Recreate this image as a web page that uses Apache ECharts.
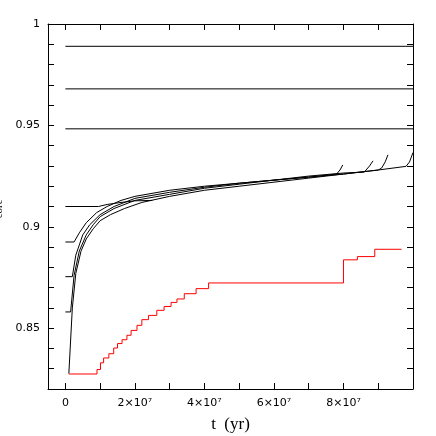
<!DOCTYPE html>
<html><head><meta charset="utf-8">
<script src="https://cdn.jsdelivr.net/npm/echarts@6/dist/echarts.min.js"></script>
<style>html,body{margin:0;padding:0;background:#fff}#c{width:436px;height:436px}</style>
</head><body><div id="c"></div>
<script>
// x in units of 1e7 yr
const xTicks = [0,1,2,3,4,5,6,7,8,9];
const xLabels = {0:'0',2:'2×10⁷',4:'4×10⁷',6:'6×10⁷',8:'8×10⁷'};
const yTicks = [0.83,0.84,0.85,0.86,0.87,0.88,0.89,0.9,0.91,0.92,0.93,0.94,0.95,0.96,0.97,0.98,0.99,1];
const yLabels = {0.85:'0.85',0.9:'0.9',0.95:'0.95',1:'1'};

const flat1 = [[0,0.989],[10,0.989]];
const flat2 = [[0,0.968],[10,0.968]];
const flat3 = [[0,0.9483],[10,0.9483]];
const curve1 = [[0.1,0.8276],[0.12,0.8276],[0.2,0.86],[0.3,0.877],[0.45,0.888],[0.6,0.894],[0.8,0.899],[1.0,0.903],[1.3,0.906],[1.7,0.909],[2.2,0.912],[3,0.915],[4,0.918],[5,0.92],[6,0.922],[7,0.924],[8,0.926],[9,0.928],[9.8,0.9298],[9.9,0.932],[10,0.9366]];
const curve2 = [[0,0.858],[0.15,0.858],[0.25,0.876],[0.4,0.888],[0.6,0.896],[0.8,0.901],[1.0,0.905],[1.4,0.909],[2,0.913],[3,0.916],[4,0.919],[5,0.921],[6,0.923],[7,0.9245],[8,0.926],[9,0.928],[9.1,0.929],[9.2,0.932],[9.28,0.9355]];
const curve3 = [[0,0.8754],[0.2,0.8754],[0.3,0.886],[0.5,0.896],[0.7,0.901],[1.0,0.906],[1.4,0.91],[2,0.914],[3,0.917],[4,0.9195],[5,0.9215],[6,0.923],[7,0.925],[8,0.9265],[8.6,0.927],[8.75,0.93],[8.85,0.9325]];
const curve4 = [[0,0.8925],[0.25,0.8925],[0.4,0.897],[0.6,0.902],[0.9,0.907],[1.2,0.91],[1.6,0.913],[2,0.915],[3,0.918],[4,0.92],[5,0.9215],[6,0.923],[7,0.9245],[7.8,0.926],[7.9,0.928],[7.98,0.9305]];
const curve5 = [[0,0.91],[0.95,0.91],[1.2,0.911],[1.6,0.912],[2,0.9128],[2.5,0.913]];
const red = [[0.1,0.8274],[0.91,0.8296],[1.01,0.8329],[1.10,0.8353],[1.25,0.8374],[1.39,0.8402],[1.50,0.8424],[1.63,0.8443],[1.77,0.8465],[1.89,0.8489],[2.06,0.8514],[2.20,0.8542],[2.39,0.8563],[2.63,0.8588],[2.84,0.8607],[3.04,0.8627],[3.21,0.8644],[3.42,0.867],[3.76,0.8695],[4.12,0.8723],[8.0,0.8837],[8.4,0.8853],[8.9,0.8889],[9.67,0.8889]];

const chart = echarts.init(document.getElementById('c'));
const tickStyle = {lineStyle:{color:'#000',width:1}};
function xAxis(pos, showLabel){
  return {type:'value', position:pos, min:-0.5, max:10,
    axisLine:{show:true,onZero:false,lineStyle:{color:'#000',width:1}},
    axisTick:{show:true,inside:true,length:6,customValues:xTicks,...tickStyle},
    axisLabel:{show:showLabel,customValues:[0,2,4,6,8],formatter:v=>xLabels[Math.round(v)]||'',color:'#000',fontFamily:'DejaVu Sans',fontSize:11,margin:9},
    splitLine:{show:false},
    name: showLabel?'t  (yr)':'', nameLocation:'middle', nameGap:27,
    nameTextStyle:{fontFamily:'Liberation Serif',fontSize:17,color:'#000'}};
}
function yAxis(pos, showLabel){
  return {type:'value', position:pos, min:0.82, max:1,
    axisLine:{show:true,onZero:false,lineStyle:{color:'#000',width:1}},
    axisTick:{show:true,inside:true,length:6,customValues:yTicks,...tickStyle},
    axisLabel:{show:showLabel,customValues:[0.85,0.9,0.95,1],formatter:v=>yLabels[Math.round(v*100)/100]||'',color:'#000',fontFamily:'DejaVu Sans',fontSize:11,margin:8},
    splitLine:{show:false},
    name: showLabel?'{a|M}{b|core}{a|/M}':'', nameLocation:'middle', nameGap:34, nameRotate:90,
    nameTextStyle:{rich:{a:{fontFamily:'Liberation Serif',fontSize:17,color:'#000'},b:{fontFamily:'Liberation Serif',fontSize:11,color:'#000',verticalAlign:'bottom',padding:[8,0,0,0]}}}};
}
const lineSeries = (data, color, step) => ({type:'line', data, showSymbol:false, step:step||false, lineStyle:{color, width:1}, silent:true, animation:false});
chart.setOption({
  animation:false,
  grid:{left:48,right:23,top:24,bottom:47,containLabel:false,outerBoundsMode:'none'},
  xAxis:[xAxis('bottom',true), xAxis('top',false)],
  yAxis:[yAxis('left',true), yAxis('right',false)],
  series:[
    lineSeries(flat1,'#000'), lineSeries(flat2,'#000'), lineSeries(flat3,'#000'),
    lineSeries(curve1,'#000'), lineSeries(curve2,'#000'), lineSeries(curve3,'#000'),
    lineSeries(curve4,'#000'), lineSeries(curve5,'#000'),
    lineSeries(red,'#ff0000','end')
  ]
});
</script></body></html>
